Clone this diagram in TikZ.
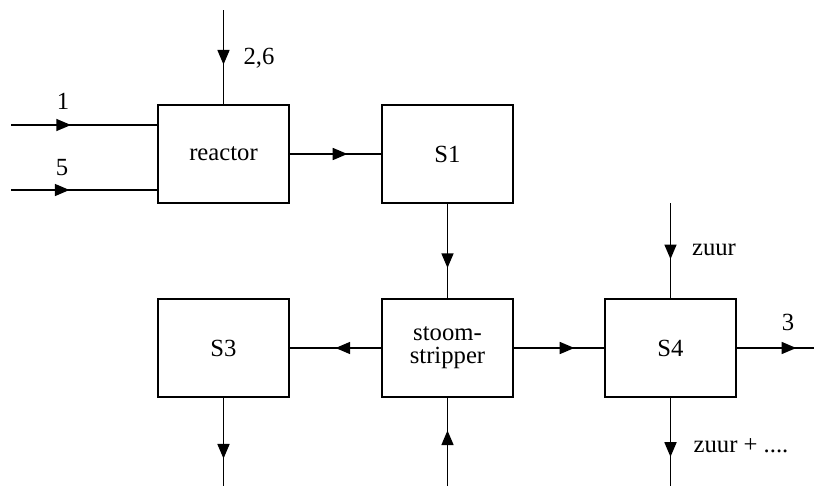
\documentclass[tikz,border=0pt]{standalone}
\usepackage{fontspec}
\setmainfont{Liberation Serif}
\usetikzlibrary{arrows.meta,decorations.markings}
\begin{document}
\begin{tikzpicture}[x=0.75pt,y=-0.75pt,
  box/.style={draw,line width=1.2pt,minimum width=131*0.75pt,minimum height=98*0.75pt,inner sep=0pt,align=center,font=\fontsize{18.5}{20}\selectfont},
  lbl/.style={font=\fontsize{18.5}{20}\selectfont,inner sep=1pt},
  flow/.style={line width=1.2pt,postaction={decorate},decoration={markings,mark=at position #1 with {\arrow{Triangle[length=11pt,width=9pt]}}}}]
\useasboundingbox (0,0) rectangle (818,486);
\node[box] (reactor) at (223.5,154) {reactor};
\node[box] (S1) at (447.5,154) {S1};
\node[box] (S3) at (223.5,348) {S3};
\node[box] (strip) at (447.5,348) {stoom-\\[-3pt]stripper};
\node[box] (S4) at (670.5,348) {S4};
\coordinate (in1) at (11,125);
\coordinate (in5) at (11,190);
\coordinate (in26) at (223.5,10);
\coordinate (inzuur) at (670.5,203);
\coordinate (out3) at (814,348);
\coordinate (outS4) at (670.5,486);
\coordinate (outS3) at (223.5,486);
\coordinate (instrip) at (447.5,486);
\draw[flow=0.41] (in1) -- (in1 -| reactor.west);
\draw[flow=0.40] (in5) -- (in5 -| reactor.west);
\draw[flow=0.58] (in26) -- (reactor.north);
\draw[flow=0.63] (reactor) -- (S1);
\draw[flow=0.68] (S1) -- (strip);
\draw[flow=0.50] (strip) -- (S3);
\draw[flow=0.67] (strip) -- (S4);
\draw[flow=0.59] (inzuur) -- (S4.north);
\draw[flow=0.77] (S4.east) -- (out3);
\draw[flow=0.67] (S4.south) -- (outS4);
\draw[flow=0.69] (S3.south) -- (outS3);
\draw[flow=0.63] (instrip) -- (strip.south);
\node[lbl] (l1) at (63,101) {1};
\node[lbl] (l5) at (62,168) {5};
\node[lbl] (l26) at (259,58) {2,6};
\node[lbl] (lzuur) at (714,250) {zuur};
\node[lbl] (l3) at (788,322) {3};
\node[lbl] (lzp) at (741,446) {zuur + ....};
\end{tikzpicture}
\end{document}
